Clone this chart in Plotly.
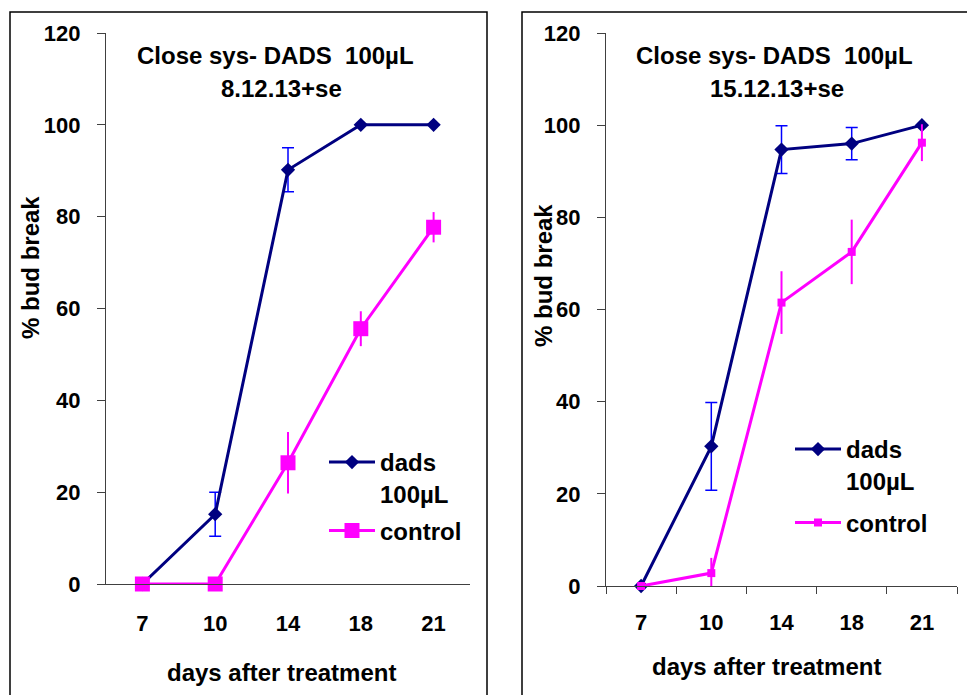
import plotly.graph_objects as go

# Days after treatment (categorical x positions)
days = ["7", "10", "14", "18", "21"]

# Experiment of 8.12.13 — % bud break with standard errors
dads_a = [0, 15.2, 90.2, 100, 100]
dads_a_se = [0, 4.8, 4.8, 0, 0]
control_a = [0, 0, 26.4, 55.6, 77.7]
control_a_se = [0, 0, 6.7, 3.8, 3.3]

# Experiment of 15.12.13 — % bud break with standard errors
dads_b = [0, 30.3, 94.7, 96.0, 100]
dads_b_se = [0, 9.5, 5.2, 3.5, 0]
control_b = [0, 2.8, 61.5, 72.5, 96.2]
control_b_se = [0, 3.3, 6.8, 7.0, 4.0]

y_ticks = [0, 20, 40, 60, 80, 100, 120]

W, H = 967, 695
FONT = "Liberation Sans, Arial, sans-serif"
NAVY = "#000080"
BLUE = "#0000FF"
MAGENTA = "#FF00FF"
AXIS = "#404040"


def px(x):
    return x / W


def py(y):
    return 1 - y / H


fig = go.Figure()

panels = [
    dict(xa="x", ya="y", leg="legend", dads=dads_a, dads_se=dads_a_se,
         ctl=control_a, ctl_se=control_a_se, sq=15),
    dict(xa="x2", ya="y2", leg="legend2", dads=dads_b, dads_se=dads_b_se,
         ctl=control_b, ctl_se=control_b_se, sq=8),
]

for p in panels:
    fig.add_trace(go.Scatter(
        x=days, y=p["dads"], xaxis=p["xa"], yaxis=p["ya"],
        name="dads<br>100µL", legend=p["leg"], legendgroup="dads",
        mode="lines+markers", cliponaxis=False,
        line=dict(color=NAVY, width=3),
        marker=dict(symbol="diamond", size=11, color=NAVY),
        error_y=dict(type="data", array=p["dads_se"], visible=True,
                     color=BLUE, thickness=1.5, width=6),
    ))
    fig.add_trace(go.Scatter(
        x=days, y=p["ctl"], xaxis=p["xa"], yaxis=p["ya"],
        name="control", legend=p["leg"], legendgroup="control",
        mode="lines+markers", cliponaxis=False,
        line=dict(color=MAGENTA, width=3),
        marker=dict(symbol="square", size=p["sq"], color=MAGENTA),
        error_y=dict(type="data", array=p["ctl_se"], visible=True,
                     color=MAGENTA, thickness=2, width=0),
    ))

tickfont = dict(family=FONT, size=22, color="black", weight="bold")

yaxis_common = dict(
    range=[0, 120], tickvals=y_ticks, showgrid=False, zeroline=False,
    showline=True, linecolor=AXIS, linewidth=1.2,
    ticks="outside", ticklen=8, tickcolor=AXIS, tickwidth=1.2,
    tickfont=tickfont, ticklabelstandoff=12, automargin=False,
)

leg_font = dict(family=FONT, size=24, color="black", weight="bold")

fig.update_layout(
    template="none",
    autosize=False,
    width=W, height=H,
    margin=dict(l=0, r=0, t=0, b=0, pad=0, autoexpand=False),
    paper_bgcolor="white", plot_bgcolor="white",
    xaxis=dict(domain=[px(106), px(470)], type="category", range=[-0.5, 4.5],
               showgrid=False, zeroline=False, showline=True, linecolor=AXIS,
               linewidth=1.2, ticks="", tickfont=tickfont, ticklabelstandoff=19,
               anchor="y", automargin=False),
    yaxis=dict(domain=[py(584), py(33)], anchor="x", **yaxis_common),
    xaxis2=dict(domain=[px(606), px(957)], type="category", range=[-0.5, 4.5],
                showgrid=False, zeroline=False, showline=True, linecolor=AXIS,
                linewidth=1.2, ticks="outside", ticklen=7, tickcolor=AXIS,
                tickwidth=1.2, tickson="boundaries", tickfont=tickfont,
                ticklabelstandoff=16, anchor="y2", automargin=False),
    yaxis2=dict(domain=[py(586), py(33)], anchor="x2", **yaxis_common),
    legend=dict(x=px(324), y=py(440), xanchor="left", yanchor="top",
                font=leg_font, bgcolor="rgba(0,0,0,0)", borderwidth=0,
                valign="top", tracegroupgap=3, itemwidth=46),
    legend2=dict(x=px(790), y=py(427), xanchor="left", yanchor="top",
                 font=leg_font, bgcolor="rgba(0,0,0,0)", borderwidth=0,
                 valign="top", tracegroupgap=8, itemwidth=46),
    showlegend=True,
)

# Panel frames
fig.add_shape(type="rect", xref="paper", yref="paper",
              x0=px(10), x1=px(487), y0=py(720), y1=py(12),
              line=dict(color="black", width=1.5), layer="below")
fig.add_shape(type="rect", xref="paper", yref="paper",
              x0=px(522), x1=px(990), y0=py(720), y1=py(12),
              line=dict(color="black", width=1.5), layer="below")

NB = "\u00a0"
texts = [
    (f"Close sys- DADS {NB}100µL", 275, 56, 24, 0),
    ("8.12.13+se", 281, 88, 24, 0),
    (f"Close sys- DADS {NB}100µL", 774, 56, 24, 0),
    ("15.12.13+se", 777, 88, 24, 0),
    ("days after treatment", 281, 672, 24, 0),
    ("days after treatment", 766, 666, 24, 0),
    ("% bud break", 30, 268, 24, -90),
    ("% bud break", 543, 276, 24, -90),
]
for t, x, y, s, ang in texts:
    fig.add_annotation(text=t, x=px(x), y=py(y), xref="paper", yref="paper",
                       xanchor="center", yanchor="middle", showarrow=False,
                       textangle=ang,
                       font=dict(family=FONT, size=s, color="black", weight="bold"))

fig.write_html("out.html")
